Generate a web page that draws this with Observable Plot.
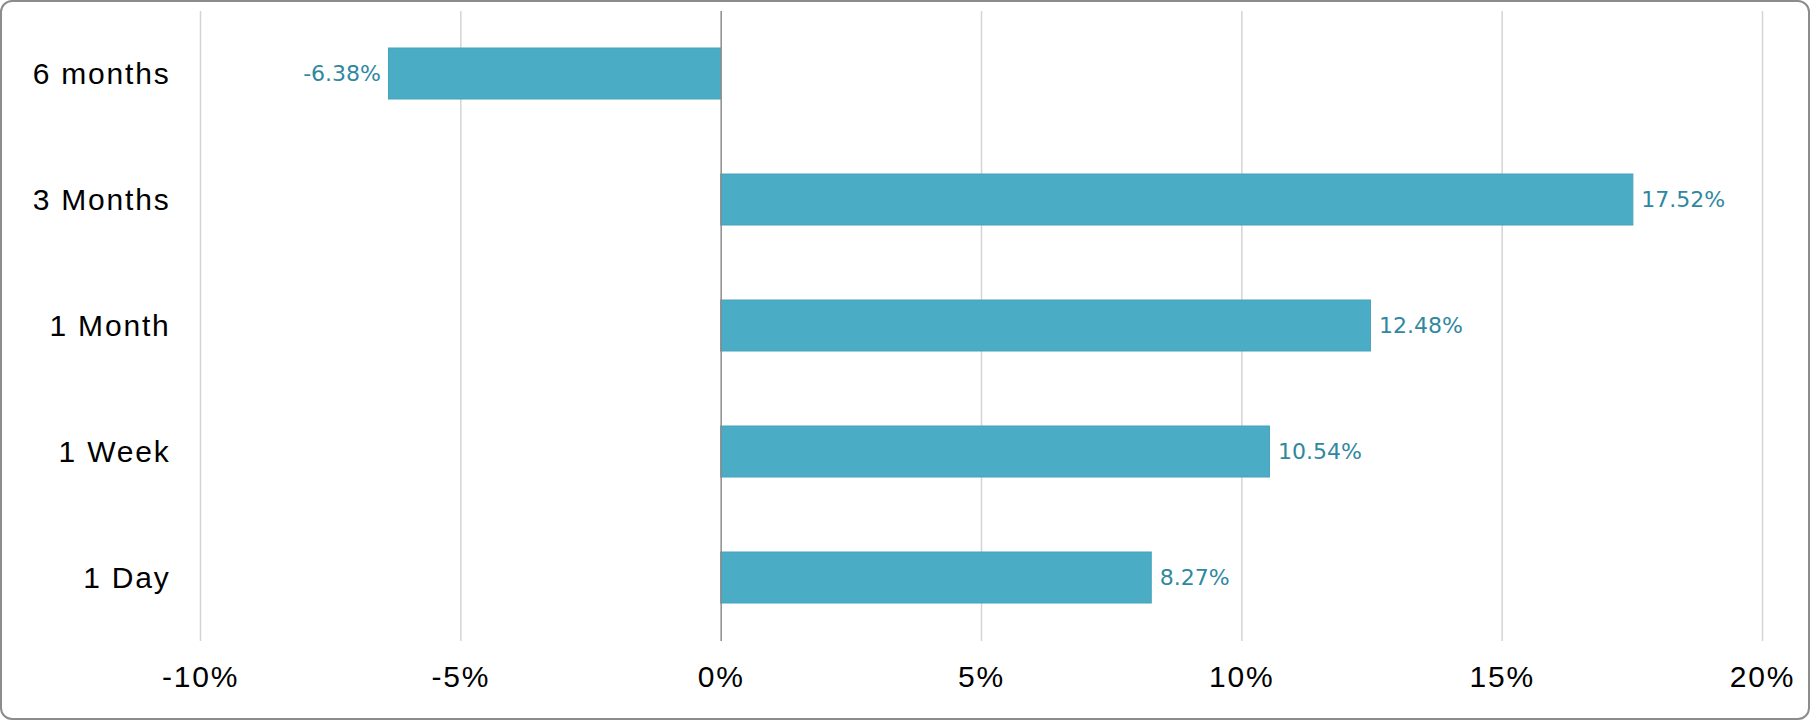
<!DOCTYPE html>
<html>
<head>
<meta charset="utf-8">
<script src="https://cdn.jsdelivr.net/npm/d3@7"></script>
<script src="https://cdn.jsdelivr.net/npm/@observablehq/plot@0.6"></script>
<style>
  html, body { margin: 0; padding: 0; background: #fff; }
  #wrap { position: relative; width: 1810px; height: 720px; overflow: hidden; }
  #frame { position: absolute; left: 0; top: 0; width: 1806px; height: 716px; border: 2px solid #8c8c8c; border-radius: 12px; pointer-events: none; }
</style>
</head>
<body>
<div id="wrap"><div id="frame"></div></div>
<script>
const categories = ["6 months", "3 Months", "1 Month", "1 Week", "1 Day"];
const values = [-6.38, 17.52, 12.48, 10.54, 8.27];
const xTicks = [-10, -5, 0, 5, 10, 15, 20];
const gridTicks = [-10, -5, 5, 10, 15, 20];

const data = categories.map((c, i) => ({ period: c, value: values[i] }));
const neg = data.filter(d => d.value < 0);
const pos = data.filter(d => d.value >= 0);
const labelOpts = {
  x: "value", y: "period",
  text: d => d.value.toFixed(2) + "%",
  fill: "#2f88a0",
  fontSize: 22,
  fontFamily: "'DejaVu Sans', Verdana, sans-serif"
};

const chart = Plot.plot({
  width: 1810,
  height: 720,
  marginLeft: 200,
  marginRight: 48,
  marginTop: 11,
  marginBottom: 79,
  style: { fontFamily: "'Liberation Sans', Arial, sans-serif", background: "transparent", overflow: "visible" },
  x: { domain: [-10, 20], ticks: xTicks, label: null },
  y: { domain: categories, paddingInner: 0.595, paddingOuter: 0.2975, label: null },
  marks: [
    Plot.ruleX(gridTicks, { stroke: "#d4d4d4", strokeWidth: 1.5 }),
    Plot.barX(data, { x: "value", y: "period", fill: "#4BACC6", stroke: "#46a3bb", strokeWidth: 1 }),
    Plot.ruleX([0], { stroke: "#8c8c8c", strokeWidth: 1.5 }),
    Plot.ruleY([0], { frameAnchor: "bottom", stroke: "#8c8c8c", strokeWidth: 1.5 }),
    Plot.text(neg, { ...labelOpts, textAnchor: "end", dx: -8 }),
    Plot.text(pos, { ...labelOpts, textAnchor: "start", dx: 8 }),
    Plot.axisY({ tickSize: 0, tickPadding: 30, fontSize: 30, label: null }),
    Plot.axisX({ ticks: xTicks, tickSize: 0, tickPadding: 24, fontSize: 30, tickFormat: d => d + "%", label: null })
  ]
});

document.getElementById("wrap").prepend(chart);
const svg = d3.select(chart);
svg.selectAll("g[aria-label='y-axis tick label'] text, g[aria-label='x-axis tick label'] text")
  .attr("fill", "#000").style("letter-spacing", "1.8px");
</script>
</body>
</html>
